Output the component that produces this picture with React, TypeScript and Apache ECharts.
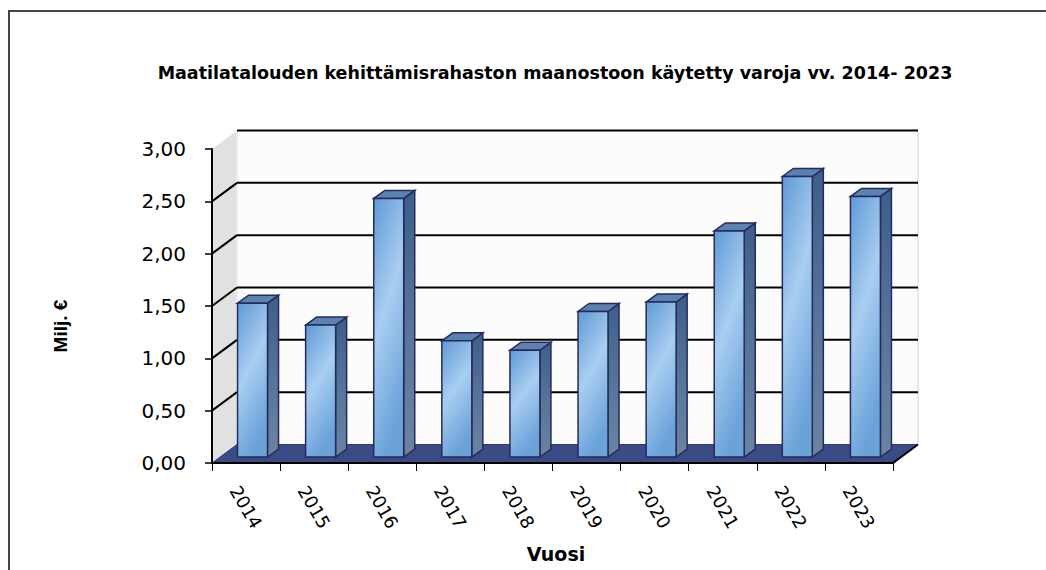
import React, { useEffect, useRef } from "react";
import * as echarts from "echarts";

const years = ["2014", "2015", "2016", "2017", "2018", "2019", "2020", "2021", "2022", "2023"];
const values = [1.47, 1.26, 2.47, 1.11, 1.02, 1.39, 1.48, 2.16, 2.68, 2.49];
const yTicks = [0, 0.5, 1, 1.5, 2, 2.5, 3];
const titleText = "Maatilatalouden kehittämisrahaston maanostoon käytetty varoja vv. 2014- 2023";
const yName = "Milj. €";
const xName = "Vuosi";

const FONT = "'Liberation Sans', Arial, sans-serif";
const WIDE = "'DejaVu Sans', 'Liberation Sans', sans-serif";
const DX = 25;
const DY = -18.5;

export default function App() {
  const ref = useRef<HTMLDivElement>(null);
  useEffect(() => {
    if (!ref.current) return;
    const chart = echarts.init(ref.current, null, { renderer: "svg" });
    const yMax = yTicks[yTicks.length - 1];

    const frameItem = (params: any, api: any) => {
      const cs = params.coordSys;
      const L = cs.x, R = cs.x + cs.width, T = cs.y, B = cs.y + cs.height;
      const children: any[] = [];
      children.push({
        type: "rect",
        shape: { x: L + DX, y: T + DY, width: cs.width, height: cs.height },
        style: { fill: "#fcfcfc", stroke: "#d4d4d4", lineWidth: 1 },
      });
      children.push({
        type: "polygon",
        shape: { points: [[L, T], [L + DX, T + DY], [L + DX, B + DY], [L, B]] },
        style: { fill: "#e1e1e1", stroke: "#f2f2f2", lineWidth: 1 },
      });
      yTicks.forEach((t) => {
        if (t === 0) return;
        const y = api.coord([0, t])[1];
        children.push({
          type: "line",
          shape: { x1: L + DX, y1: y + DY, x2: R + DX, y2: y + DY },
          style: { stroke: "#000", lineWidth: 2 },
        });
        if (t < yMax) {
          children.push({
            type: "line",
            shape: { x1: L, y1: y, x2: L + DX, y2: y + DY },
            style: { stroke: "#000", lineWidth: 2 },
          });
        }
      });
      children.push({
        type: "polygon",
        shape: { points: [[L, B], [L + DX, B + DY], [R + DX, B + DY], [R, B]] },
        style: { fill: "#3a4b86", stroke: "#2e3c70", lineWidth: 1 },
      });
      children.push({
        type: "line",
        shape: { x1: R, y1: B, x2: R + DX, y2: B + DY },
        style: { stroke: "#000", lineWidth: 2 },
      });
      return { type: "group", children };
    };

    const barItem = (params: any, api: any) => {
      const idx = api.value(0);
      const v = api.value(1);
      const base = api.coord([idx, 0]);
      const top = api.coord([idx, v]);
      const bw = api.size([1, 0])[0];
      const w = bw * 0.44;
      const ox = bw * 0.095;
      const oy = -6;
      const sdx = bw * 0.162;
      const sdy = -8;
      const x0 = base[0] + ox - w / 2;
      const x1 = x0 + w;
      const yb = base[1] + oy;
      const yt = top[1] + oy;
      const outline = "#272a5e";
      return {
        type: "group",
        children: [
          {
            type: "polygon",
            shape: { points: [[x1, yt], [x1 + sdx, yt + sdy], [x1 + sdx, yb + sdy], [x1, yb]] },
            style: {
              fill: new echarts.graphic.LinearGradient(0, 0, 0, 1, [
                { offset: 0, color: "#3c5e88" },
                { offset: 0.5, color: "#56749a" },
                { offset: 1, color: "#6c84a1" },
              ]),
              stroke: outline,
              lineWidth: 1.5,
            },
          },
          {
            type: "polygon",
            shape: { points: [[x0, yt], [x0 + sdx, yt + sdy], [x1 + sdx, yt + sdy], [x1, yt]] },
            style: { fill: "#5a83b0", stroke: outline, lineWidth: 1.5 },
          },
          {
            type: "rect",
            shape: { x: x0, y: yt, width: w, height: yb - yt },
            style: {
              fill: new echarts.graphic.LinearGradient(0, 0, 0.35, 1, [
                { offset: 0, color: "#5f9ad5" },
                { offset: 0.5, color: "#a9cef1" },
                { offset: 1, color: "#6ba3d9" },
              ]),
              stroke: outline,
              lineWidth: 1.5,
            },
          },
        ],
      };
    };

    chart.setOption({
      animation: false,
      backgroundColor: "#ffffff",
      grid: { left: 212, top: 149, right: 153, bottom: 107, containLabel: false },
      xAxis: {
        type: "category",
        data: years,
        z: 10,
        boundaryGap: true,
        axisLine: { show: true, lineStyle: { color: "#000", width: 2 } },
        axisTick: { show: true, length: 8, lineStyle: { color: "#000", width: 1 } },
        axisLabel: {
          rotate: -60,
          align: "center",
          verticalAlign: "middle",
          margin: 44,
          fontFamily: WIDE,
          fontSize: 18,
          color: "#000",
        },
        splitLine: { show: false },
      },
      yAxis: {
        type: "value",
        min: 0,
        max: yMax,
        interval: 0.5,
        z: 10,
        axisLine: { show: true, lineStyle: { color: "#000", width: 2 } },
        axisTick: { show: true, length: 7, lineStyle: { color: "#000", width: 1.5 } },
        axisLabel: {
          margin: 26,
          fontFamily: WIDE,
          fontSize: 20,
          color: "#000",
          formatter: (val: number) => val.toFixed(2).replace(".", ","),
        },
        splitLine: { show: false },
      },
      graphic: [
        {
          type: "polyline",
          shape: { points: [[9, 590], [9, 11], [1060, 11]] },
          style: { fill: "none", stroke: "#444", lineWidth: 2 },
          silent: true,
        },
        {
          type: "text",
          x: 555,
          y: 73,
          style: {
            text: titleText,
            fontFamily: WIDE,
            fontSize: 17.5,
            fontWeight: "bold",
            fill: "#000",
            textAlign: "center",
            textVerticalAlign: "middle",
          },
        },
        {
          type: "text",
          x: 60,
          y: 326,
          rotation: Math.PI / 2,
          style: {
            text: yName,
            fontFamily: FONT,
            fontSize: 19,
            fontWeight: "bold",
            fill: "#000",
            textAlign: "center",
            textVerticalAlign: "middle",
          },
        },
        {
          type: "text",
          x: 556,
          y: 554,
          style: {
            text: xName,
            fontFamily: WIDE,
            fontSize: 19,
            fontWeight: "bold",
            fill: "#000",
            textAlign: "center",
            textVerticalAlign: "middle",
          },
        },
      ],
      series: [
        {
          type: "custom",
          name: "frame",
          z: 1,
          silent: true,
          renderItem: frameItem,
          data: [[0, 0]],
        },
        {
          type: "custom",
          name: "Milj. €",
          z: 3,
          renderItem: barItem,
          data: values.map((v, i) => [i, v]),
        },
      ],
    });
    return () => chart.dispose();
  }, []);
  return (
    <div
      ref={ref}
      style={{ position: "fixed", left: 0, top: 0, width: 1046, height: 570, background: "#fff" }}
    />
  );
}
